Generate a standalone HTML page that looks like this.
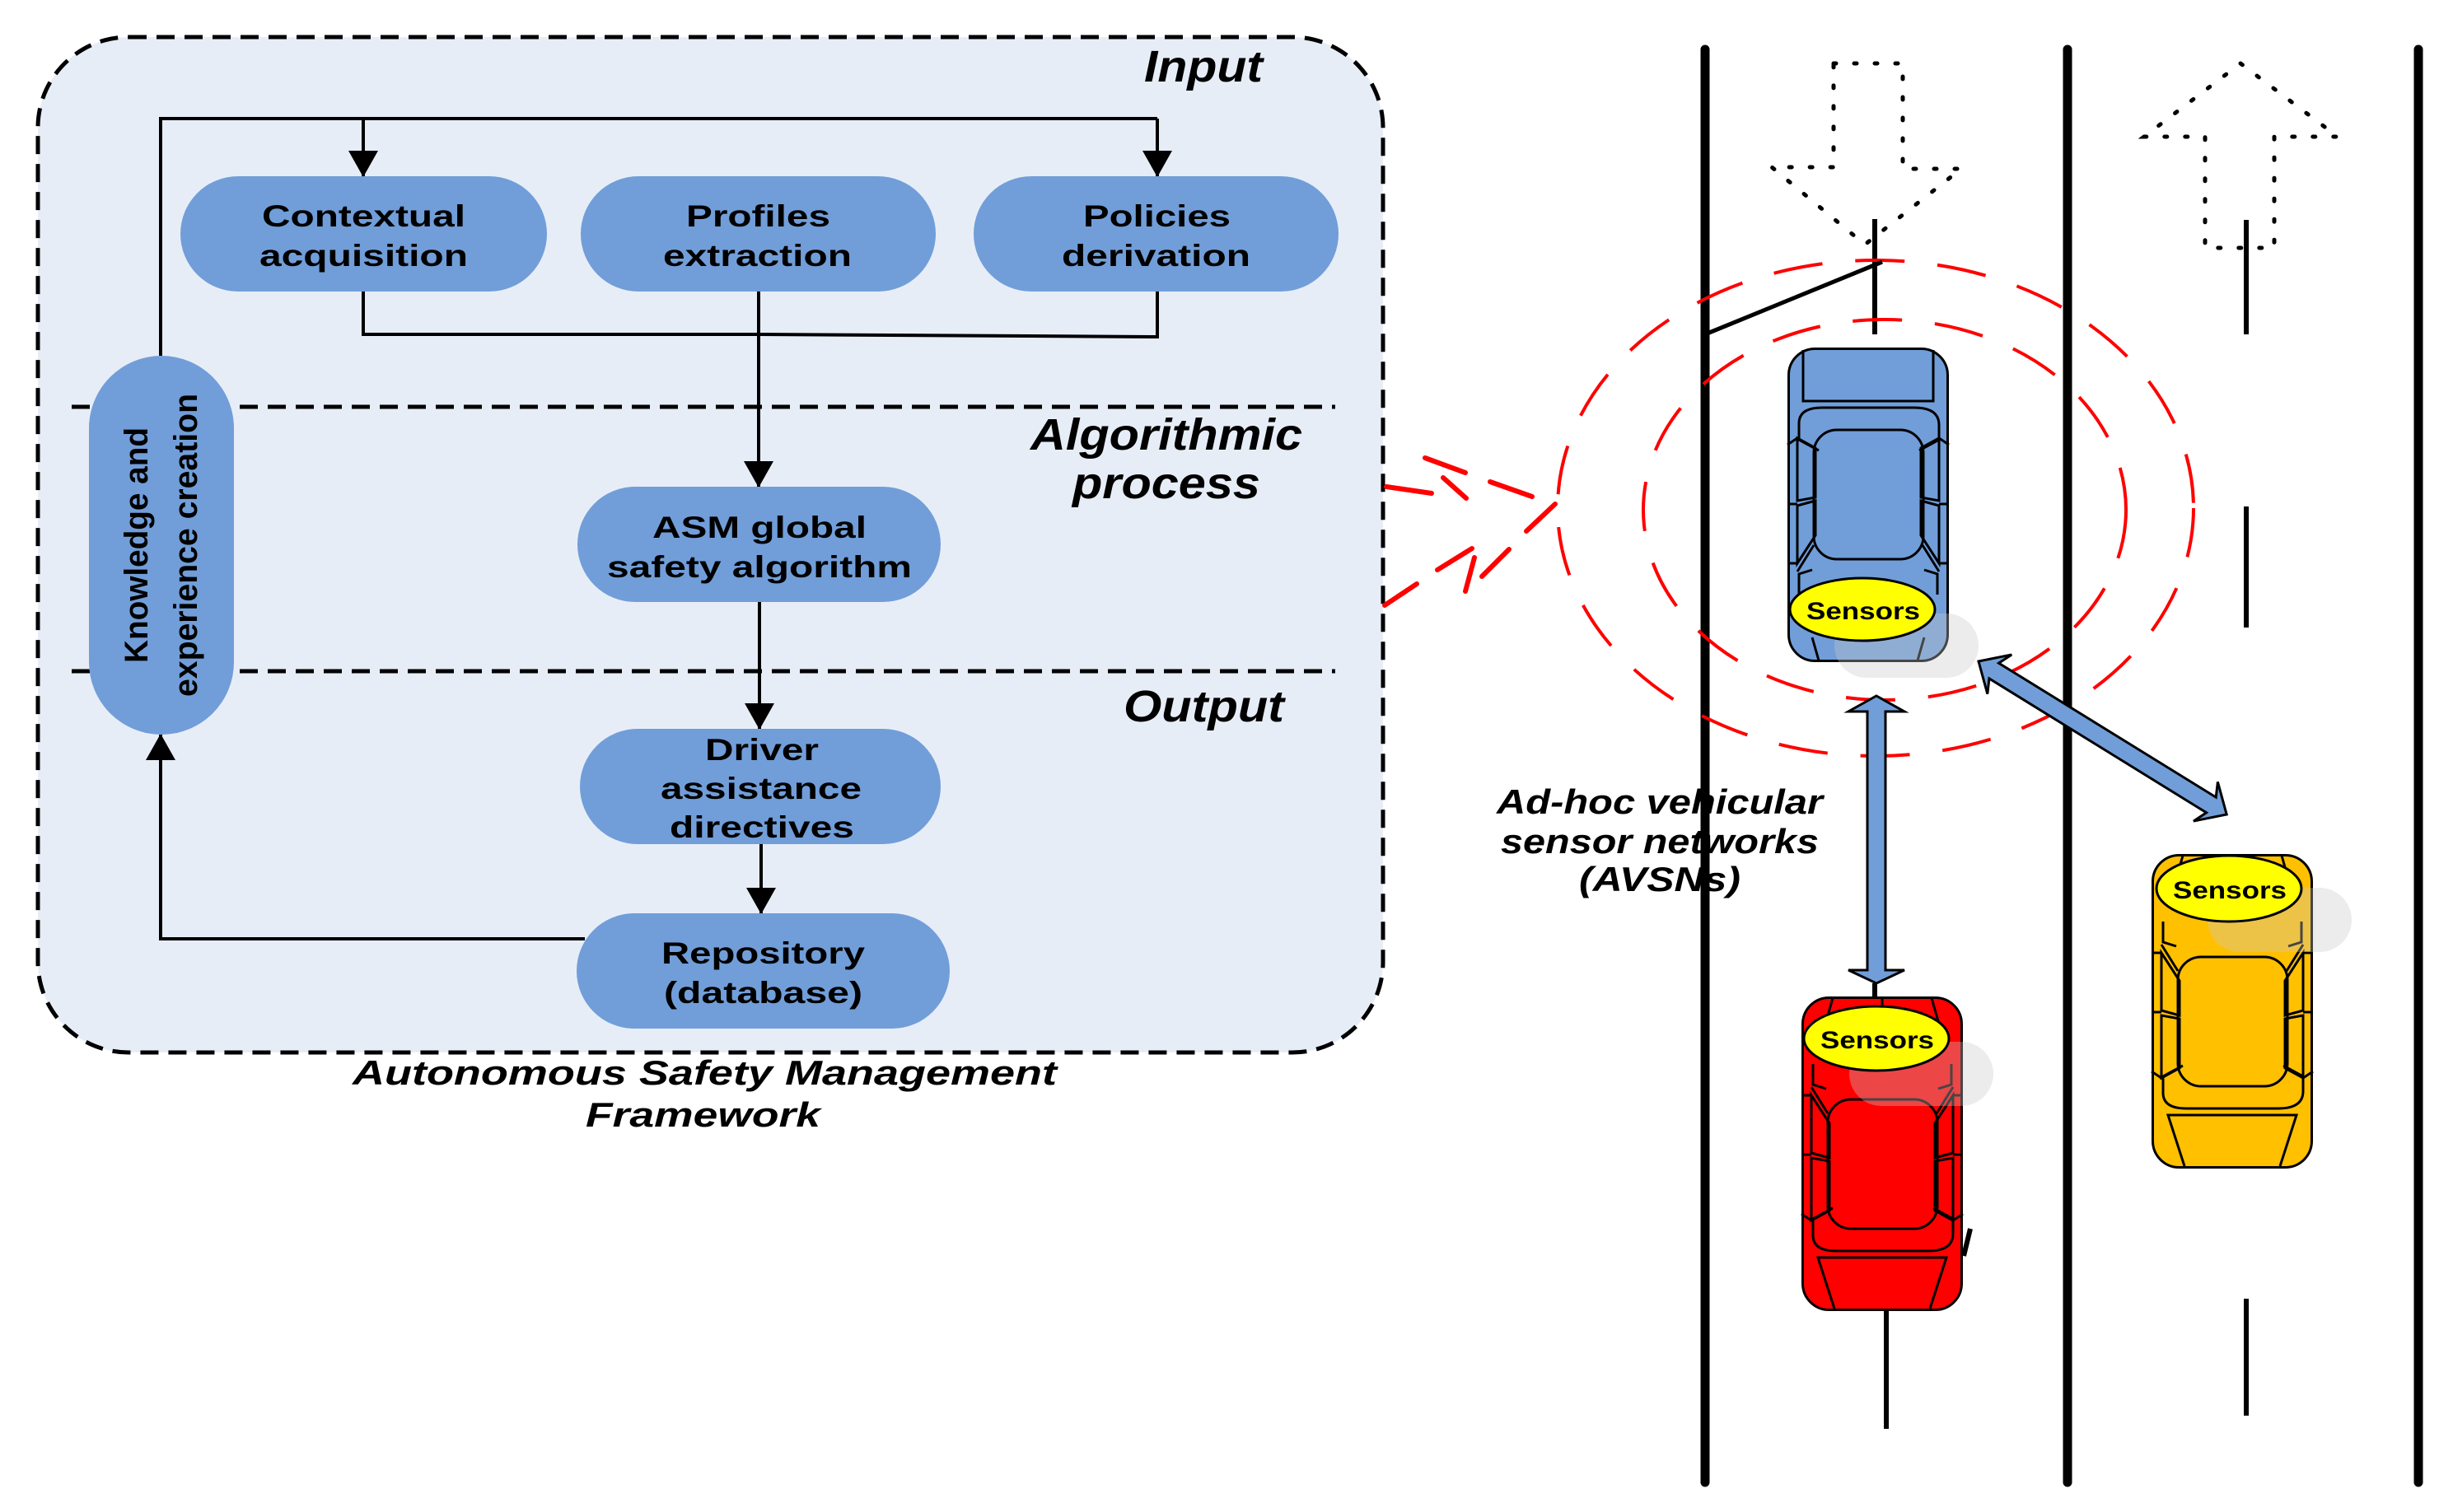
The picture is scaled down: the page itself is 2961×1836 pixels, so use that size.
<!DOCTYPE html>
<html><head><meta charset="utf-8"><style>
html,body{margin:0;padding:0;background:#fff;}
svg{display:block;}
text{font-family:"Liberation Sans",Arial,sans-serif;font-weight:bold;}
</style></head><body>
<svg width="2961" height="1836" viewBox="0 0 2961 1836" xmlns="http://www.w3.org/2000/svg">
<defs>
<marker id="ah" markerWidth="32" markerHeight="36" refX="31" refY="18" orient="auto" markerUnits="userSpaceOnUse" viewBox="0 0 32 36"><path d="M0,0 L32,18 L0,36 z" fill="#000"/></marker>
<g id="car" stroke="#000" stroke-width="3" fill="none">
<rect x="1.5" y="1.5" width="193" height="379" rx="32" fill="currentColor"/>
<path d="M19,3 L19,65 L177,65 L177,3"/>
<path d="M14,112 L14,92 Q14,73 42,73 L154,73 Q184,73 184,94 L184,112 L160,125"/>
<path d="M14,112 L38,125"/>
<rect x="32" y="100" width="133" height="157" rx="28"/>
<path d="M12,110 L34,122 L34,182 L12,186 z"/>
<path d="M12,192 L34,186 L34,228 L12,262 z"/>
<path d="M184,110 L162,122 L162,182 L184,186 z"/>
<path d="M184,192 L162,186 L162,228 L184,262 z"/>
<path d="M0,118 L12,110 M196,118 L184,110 M0,190 L12,190 M196,190 L184,190 M0,262 L12,262 M196,262 L184,262"/>
<path d="M12,272 L32,240 M184,272 L164,240"/>
<path d="M14,300 L14,275 L30,270 M182,300 L182,275 L166,270"/>
<path d="M30,352 L38,380 M166,352 L158,380"/>
</g>
<g id="car2" stroke="#000" stroke-width="3" fill="none">
<rect x="1.5" y="1.5" width="193" height="379" rx="32" fill="currentColor"/>
<path d="M40,3 L20,65 L176,65 L156,3"/>
<path d="M14,112 L14,92 Q14,73 42,73 L154,73 Q184,73 184,94 L184,112 L160,125"/>
<path d="M14,112 L38,125"/>
<rect x="32" y="100" width="133" height="157" rx="28"/>
<path d="M12,110 L34,122 L34,182 L12,186 z"/>
<path d="M12,192 L34,186 L34,228 L12,262 z"/>
<path d="M184,110 L162,122 L162,182 L184,186 z"/>
<path d="M184,192 L162,186 L162,228 L184,262 z"/>
<path d="M0,118 L12,110 M196,118 L184,110 M0,190 L12,190 M196,190 L184,190 M0,262 L12,262 M196,262 L184,262"/>
<path d="M12,272 L32,240 M184,272 L164,240"/>
<path d="M14,300 L14,275 L30,270 M182,300 L182,275 L166,270"/>
<path d="M30,352 L38,380 M166,352 L158,380 M98,380 L98,352"/>
</g>
</defs>

<!-- LEFT PANEL -->
<rect x="46" y="45" width="1633" height="1233" rx="110" fill="#e7edf7" stroke="#000" stroke-width="5" stroke-dasharray="22,12"/>
<line x1="87" y1="494" x2="1621" y2="494" stroke="#000" stroke-width="5" stroke-dasharray="22,12"/>
<line x1="87" y1="815" x2="1621" y2="815" stroke="#000" stroke-width="5" stroke-dasharray="22,12"/>

<g font-style="italic" fill="#000">
<text x="1389" y="99" font-size="54" textLength="144" lengthAdjust="spacingAndGlyphs">Input</text>
<text x="1251" y="546" font-size="54" textLength="330" lengthAdjust="spacingAndGlyphs">Algorithmic</text>
<text x="1302" y="605" font-size="54" textLength="228" lengthAdjust="spacingAndGlyphs">process</text>
<text x="1364" y="876" font-size="54" textLength="195" lengthAdjust="spacingAndGlyphs">Output</text>
</g>

<!-- connectors -->
<g stroke="#000" stroke-width="4" fill="none">
<polyline points="195,432 195,144 1405,144"/>
<line x1="441" y1="144" x2="441" y2="214" marker-end="url(#ah)"/>
<line x1="1405" y1="144" x2="1405" y2="214" marker-end="url(#ah)"/>
<polyline points="441,354 441,406 921,406 1405,409 1405,354"/>
<line x1="921" y1="354" x2="921" y2="591" marker-end="url(#ah)"/>
<line x1="922" y1="731" x2="922" y2="885" marker-end="url(#ah)"/>
<line x1="924" y1="1025" x2="924" y2="1109" marker-end="url(#ah)"/>
<polyline points="710,1140 195,1140 195,892" marker-end="url(#ah)"/>
</g>

<g fill="#719ed9">
<rect x="219" y="214" width="445" height="140" rx="70"/>
<rect x="705" y="214" width="431" height="140" rx="70"/>
<rect x="1182" y="214" width="443" height="140" rx="70"/>
<rect x="701" y="591" width="441" height="140" rx="70"/>
<rect x="704" y="885" width="438" height="140" rx="70"/>
<rect x="700" y="1109" width="453" height="140" rx="70"/>
<rect x="108" y="432" width="176" height="460" rx="88"/>
</g>
<g font-size="37" fill="#000">
<text x="318" y="275" textLength="247" lengthAdjust="spacingAndGlyphs">Contextual</text>
<text x="315" y="323" textLength="253" lengthAdjust="spacingAndGlyphs">acquisition</text>
<text x="833" y="275" textLength="175" lengthAdjust="spacingAndGlyphs">Profiles</text>
<text x="805" y="323" textLength="229" lengthAdjust="spacingAndGlyphs">extraction</text>
<text x="1315" y="275" textLength="179" lengthAdjust="spacingAndGlyphs">Policies</text>
<text x="1289" y="323" textLength="229" lengthAdjust="spacingAndGlyphs">derivation</text>
<text x="792" y="653" textLength="260" lengthAdjust="spacingAndGlyphs">ASM global</text>
<text x="737" y="701" textLength="370" lengthAdjust="spacingAndGlyphs">safety algorithm</text>
<text x="856" y="923" textLength="138" lengthAdjust="spacingAndGlyphs">Driver</text>
<text x="802" y="970" textLength="244" lengthAdjust="spacingAndGlyphs">assistance</text>
<text x="813" y="1017" textLength="224" lengthAdjust="spacingAndGlyphs">directives</text>
<text x="803" y="1170" textLength="247" lengthAdjust="spacingAndGlyphs">Repository</text>
<text x="806" y="1218" textLength="241" lengthAdjust="spacingAndGlyphs">(database)</text>
<text transform="translate(179,805) rotate(-90)" font-size="40" textLength="286" lengthAdjust="spacingAndGlyphs">Knowledge and</text>
<text transform="translate(239,846) rotate(-90)" font-size="40" textLength="368" lengthAdjust="spacingAndGlyphs">experience creation</text>
</g>
<text x="428" y="1317" font-size="42" font-style="italic" textLength="855" lengthAdjust="spacingAndGlyphs">Autonomous Safety Management</text>
<text x="711" y="1368" font-size="42" font-style="italic" textLength="285" lengthAdjust="spacingAndGlyphs">Framework</text>

<!-- ROAD -->
<g stroke="#000" stroke-linecap="round">
<line x1="2070" y1="60" x2="2070" y2="1800" stroke-width="11"/>
<line x1="2510" y1="60" x2="2510" y2="1800" stroke-width="11"/>
<line x1="2936" y1="60" x2="2936" y2="1800" stroke-width="11"/>
<g stroke-width="6" stroke-linecap="butt">
<line x1="2276" y1="266" x2="2276" y2="406"/>
<line x1="2290" y1="1592" x2="2290" y2="1735"/>
<line x1="2727" y1="267" x2="2727" y2="406"/>
<line x1="2727" y1="615" x2="2727" y2="762"/>
<line x1="2727" y1="1577" x2="2727" y2="1719"/>
<line x1="2276" y1="1194" x2="2276" y2="1215"/>
<line x1="2392" y1="1492" x2="2384" y2="1525"/>
</g>
</g>
<!-- dotted arrows -->
<g fill="none" stroke="#000" stroke-width="5" stroke-dasharray="3,22" stroke-linecap="round">
<polygon points="2226,77 2310,77 2310,205 2381,205 2264,297 2151,203 2226,203"/>
<polygon points="2720,77 2838,166 2761,166 2761,301 2677,301 2677,166 2603,166"/>
</g>

<!-- red signal -->
<g fill="none" stroke="#f00" stroke-width="4" stroke-dasharray="60,40">
<ellipse cx="2277" cy="617" rx="386" ry="301"/>
<ellipse cx="2288" cy="619" rx="293" ry="231"/>
</g>
<g stroke="#f00" stroke-width="6" stroke-linecap="round">
<line x1="1683" y1="591" x2="1738" y2="599"/>
<line x1="1730" y1="556" x2="1779" y2="574"/>
<line x1="1752" y1="580" x2="1780" y2="605"/>
<line x1="1809" y1="585" x2="1860" y2="603"/>
<line x1="1853" y1="645" x2="1888" y2="612"/>
<line x1="1681" y1="735" x2="1720" y2="709"/>
<line x1="1745" y1="692" x2="1787" y2="666"/>
<line x1="1790" y1="677" x2="1779" y2="718"/>
<line x1="1799" y1="700" x2="1832" y2="667"/>
</g>
<line x1="2070" y1="406" x2="2285" y2="318" stroke="#000" stroke-width="5"/>

<!-- cars -->
<use href="#car" x="2170" y="422" style="color:#719ed9"/>
<g transform="translate(2187,1592) scale(1,-1)"><use href="#car2" style="color:#ff0000"/></g>
<g transform="translate(2612,1419) scale(1,-1)"><use href="#car2" style="color:#ffc000"/></g>

<g fill="#c8c8c8" opacity="0.35">
<rect x="2227" y="745" width="175" height="78" rx="39"/>
<rect x="2245" y="1265" width="175" height="78" rx="39"/>
<rect x="2680" y="1078" width="175" height="78" rx="39"/>
</g>
<g fill="#ffff00" stroke="#000" stroke-width="3">
<ellipse cx="2261" cy="740" rx="88" ry="38"/>
<ellipse cx="2278" cy="1261" rx="88" ry="39"/>
<ellipse cx="2706" cy="1079" rx="88" ry="40"/>
</g>
<g font-size="30" fill="#000">
<text x="2193" y="752" textLength="138" lengthAdjust="spacingAndGlyphs">Sensors</text>
<text x="2210" y="1273" textLength="138" lengthAdjust="spacingAndGlyphs">Sensors</text>
<text x="2638" y="1091" textLength="138" lengthAdjust="spacingAndGlyphs">Sensors</text>
</g>

<!-- blue double arrows -->
<g fill="#719ed9" stroke="#000" stroke-width="3" stroke-linejoin="miter">
<polygon points="2278,845 2312,864 2289,864 2289,1178 2312,1178 2278,1194 2244,1178 2267,1178 2267,864 2244,864"/>
<g transform="translate(2402,803) rotate(31.7)">
<polygon points="0,0 30,-28 22,-11 332,-11 324,-28 354,0 324,28 332,11 22,11 30,28"/>
</g>
</g>

<g font-size="42" font-style="italic" fill="#000">
<text x="1817" y="988" textLength="396" lengthAdjust="spacingAndGlyphs">Ad-hoc vehicular</text>
<text x="1822" y="1036" textLength="386" lengthAdjust="spacingAndGlyphs">sensor networks</text>
<text x="1917" y="1082" textLength="196" lengthAdjust="spacingAndGlyphs">(AVSNs)</text>
</g>
</svg>
</body></html>
